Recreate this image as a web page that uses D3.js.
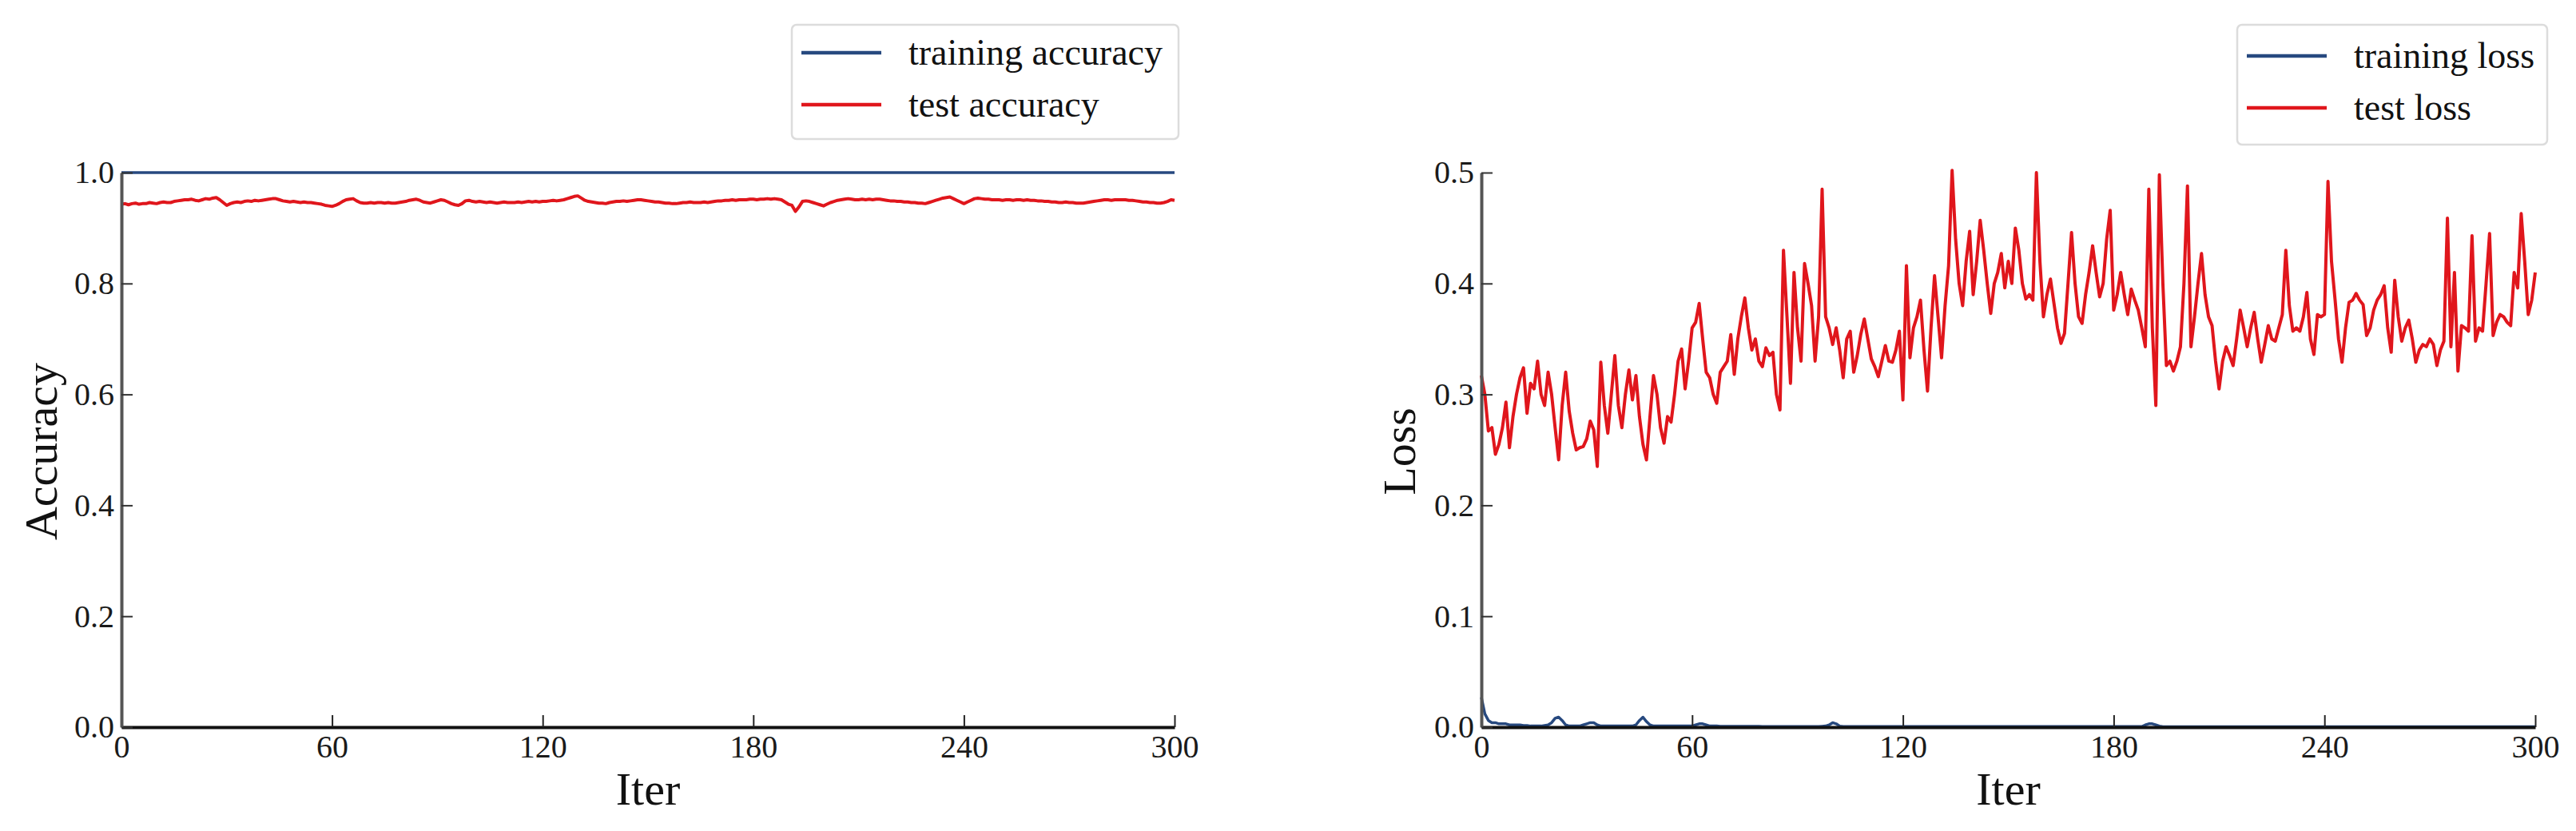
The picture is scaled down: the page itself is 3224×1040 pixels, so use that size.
<!DOCTYPE html>
<html>
<head>
<meta charset="utf-8">
<script src="https://cdn.jsdelivr.net/npm/d3@7/dist/d3.min.js"></script>
<style>
  body { margin: 0; background: #fff; }
  svg { display: block; font-family: "Liberation Serif", "Times New Roman", serif; }
  .tick text { font-family: "Liberation Serif", "Times New Roman", serif; font-size: 40px; fill: #1a1a1a; }
</style>
</head>
<body>
<div id="main"></div>
<script>
// tick values
var xTicks = [0, 60, 120, 180, 240, 300];
var accTicks = [0, 0.2, 0.4, 0.6, 0.8, 1.0];
var lossTicks = [0, 0.1, 0.2, 0.3, 0.4, 0.5];

var accLegend = ["training accuracy", "test accuracy"];
var lossLegend = ["training loss", "test loss"];

// one value per iteration, 0..300
var trainAcc = [
    1,1,1,1,1,1,1,1,1,1,1,1,1,1,1,1,1,1,1,1,1,1,1,1,1,1,1,1,1,1,
    1,1,1,1,1,1,1,1,1,1,1,1,1,1,1,1,1,1,1,1,1,1,1,1,1,1,1,1,1,1,
    1,1,1,1,1,1,1,1,1,1,1,1,1,1,1,1,1,1,1,1,1,1,1,1,1,1,1,1,1,1,
    1,1,1,1,1,1,1,1,1,1,1,1,1,1,1,1,1,1,1,1,1,1,1,1,1,1,1,1,1,1,
    1,1,1,1,1,1,1,1,1,1,1,1,1,1,1,1,1,1,1,1,1,1,1,1,1,1,1,1,1,1,
    1,1,1,1,1,1,1,1,1,1,1,1,1,1,1,1,1,1,1,1,1,1,1,1,1,1,1,1,1,1,
    1,1,1,1,1,1,1,1,1,1,1,1,1,1,1,1,1,1,1,1,1,1,1,1,1,1,1,1,1,1,
    1,1,1,1,1,1,1,1,1,1,1,1,1,1,1,1,1,1,1,1,1,1,1,1,1,1,1,1,1,1,
    1,1,1,1,1,1,1,1,1,1,1,1,1,1,1,1,1,1,1,1,1,1,1,1,1,1,1,1,1,1,
    1,1,1,1,1,1,1,1,1,1,1,1,1,1,1,1,1,1,1,1,1,1,1,1,1,1,1,1,1,1,
    1
];

var testAcc = [
    0.943,0.944,0.942,0.944,0.945,0.943,0.944,0.944,0.946,0.945,
    0.944,0.946,0.947,0.946,0.946,0.948,0.949,0.950,0.951,0.951,
    0.952,0.950,0.949,0.951,0.953,0.952,0.954,0.955,0.951,0.946,
    0.941,0.944,0.946,0.947,0.946,0.948,0.949,0.948,0.950,0.949,
    0.950,0.951,0.952,0.953,0.953,0.951,0.949,0.948,0.947,0.948,
    0.947,0.946,0.947,0.946,0.946,0.945,0.944,0.943,0.941,0.940,
    0.939,0.941,0.944,0.948,0.951,0.952,0.953,0.949,0.946,0.945,
    0.945,0.946,0.945,0.946,0.946,0.945,0.946,0.945,0.945,0.946,
    0.947,0.948,0.950,0.951,0.952,0.950,0.947,0.946,0.945,0.947,
    0.949,0.951,0.950,0.947,0.944,0.942,0.941,0.944,0.949,0.950,
    0.948,0.947,0.948,0.947,0.946,0.947,0.946,0.945,0.946,0.947,
    0.946,0.946,0.946,0.947,0.946,0.947,0.948,0.947,0.948,0.947,
    0.948,0.948,0.949,0.950,0.949,0.950,0.951,0.953,0.955,0.957,
    0.958,0.954,0.950,0.948,0.947,0.946,0.945,0.945,0.944,0.946,
    0.947,0.948,0.948,0.949,0.948,0.949,0.950,0.951,0.951,0.950,
    0.949,0.948,0.947,0.947,0.946,0.945,0.945,0.944,0.944,0.945,
    0.946,0.946,0.947,0.946,0.946,0.946,0.947,0.946,0.947,0.948,
    0.949,0.949,0.950,0.950,0.951,0.950,0.951,0.951,0.951,0.952,
    0.952,0.951,0.952,0.952,0.953,0.952,0.953,0.952,0.951,0.947,
    0.943,0.941,0.930,0.938,0.948,0.949,0.948,0.946,0.944,0.942,
    0.940,0.943,0.946,0.948,0.950,0.951,0.952,0.953,0.952,0.951,
    0.951,0.952,0.951,0.952,0.951,0.952,0.952,0.951,0.950,0.949,
    0.949,0.948,0.948,0.947,0.947,0.946,0.946,0.945,0.945,0.944,
    0.946,0.948,0.950,0.952,0.954,0.955,0.956,0.953,0.950,0.947,
    0.944,0.947,0.950,0.953,0.954,0.953,0.952,0.952,0.951,0.951,
    0.951,0.950,0.951,0.951,0.950,0.951,0.951,0.950,0.951,0.950,
    0.950,0.949,0.949,0.948,0.948,0.947,0.947,0.946,0.946,0.947,
    0.946,0.946,0.945,0.945,0.945,0.946,0.947,0.948,0.949,0.950,
    0.951,0.951,0.950,0.951,0.951,0.951,0.951,0.950,0.950,0.949,
    0.948,0.947,0.947,0.946,0.946,0.945,0.945,0.946,0.948,0.951,
    0.950
];

var trainLoss = [
    0.027,0.012,0.006,0.004,0.004,0.003,0.003,0.003,0.002,0.002,
    0.002,0.002,0.0015,0.0015,0.001,0.001,0.001,0.001,0.0015,0.002,
    0.004,0.008,0.009,0.006,0.002,0.001,0.001,0.001,0.001,0.002,
    0.003,0.004,0.004,0.002,0.001,0.001,0.001,0.001,0.001,0.001,
    0.001,0.001,0.001,0.001,0.002,0.006,0.009,0.005,0.002,0.001,
    0.001,0.001,0.001,0.001,0.001,0.001,0.001,0.001,0.001,0.001,
    0.001,0.002,0.003,0.003,0.002,0.001,0.001,0.001,0.0008,0.0008,
    0.0008,0.0008,0.0008,0.0008,0.0008,0.0008,0.0008,0.0008,0.0008,0.0008,
    0.0006,0.0006,0.0006,0.0006,0.0006,0.0006,0.0006,0.0006,0.0006,0.0006,
    0.0006,0.0006,0.0006,0.0006,0.0006,0.0006,0.0006,0.0008,0.001,0.002,
    0.004,0.003,0.001,0.0006,0.0005,0.0005,0.0005,0.0005,0.0005,0.0005,
    0.0005,0.0005,0.0005,0.0005,0.0005,0.0005,0.0005,0.0005,0.0005,0.0005,
    0.0005,0.0005,0.0005,0.0005,0.0005,0.0005,0.0005,0.0005,0.0005,0.0005,
    0.0005,0.0005,0.0005,0.0005,0.0005,0.0005,0.0005,0.0005,0.0005,0.0005,
    0.0005,0.0005,0.0005,0.0005,0.0005,0.0005,0.0005,0.0005,0.0005,0.0005,
    0.0005,0.0005,0.0005,0.0005,0.0005,0.0005,0.0005,0.0005,0.0005,0.0005,
    0.0005,0.0005,0.0005,0.0005,0.0005,0.0005,0.0005,0.0005,0.0005,0.0005,
    0.0005,0.0005,0.0005,0.0005,0.0005,0.0005,0.0005,0.0005,0.0005,0.0005,
    0.0005,0.0005,0.0005,0.0005,0.0005,0.0005,0.0005,0.0005,0.0005,0.002,
    0.003,0.003,0.002,0.001,0.0004,0.0004,0.0004,0.0004,0.0004,0.0004,
    0.0004,0.0004,0.0004,0.0004,0.0004,0.0004,0.0004,0.0004,0.0004,0.0004,
    0.0004,0.0004,0.0004,0.0004,0.0004,0.0004,0.0004,0.0004,0.0004,0.0004,
    0.0004,0.0004,0.0004,0.0004,0.0004,0.0004,0.0004,0.0004,0.0004,0.0004,
    0.0004,0.0004,0.0004,0.0004,0.0004,0.0004,0.0004,0.0004,0.0004,0.0004,
    0.0004,0.0004,0.0004,0.0004,0.0004,0.0004,0.0004,0.0004,0.0004,0.0004,
    0.0004,0.0004,0.0004,0.0004,0.0004,0.0004,0.0004,0.0004,0.0004,0.0004,
    0.0004,0.0004,0.0004,0.0004,0.0004,0.0004,0.0004,0.0004,0.0004,0.0004,
    0.0004,0.0004,0.0004,0.0004,0.0004,0.0004,0.0004,0.0004,0.0004,0.0004,
    0.0004,0.0004,0.0004,0.0004,0.0004,0.0004,0.0004,0.0004,0.0004,0.0004,
    0.0004,0.0004,0.0004,0.0004,0.0004,0.0004,0.0004,0.0004,0.0004,0.0004,
    0.0004
];

var testLoss = [
    0.317,0.300,0.267,0.270,0.246,0.255,0.270,0.293,0.252,0.280,
    0.300,0.315,0.324,0.283,0.310,0.305,0.330,0.300,0.290,0.320,
    0.300,0.270,0.241,0.290,0.320,0.285,0.265,0.250,0.252,0.253,
    0.260,0.276,0.268,0.235,0.329,0.290,0.265,0.300,0.335,0.290,
    0.270,0.300,0.322,0.295,0.317,0.280,0.255,0.241,0.280,0.317,
    0.300,0.270,0.256,0.280,0.275,0.300,0.330,0.341,0.305,0.330,
    0.360,0.365,0.382,0.350,0.320,0.315,0.300,0.292,0.320,0.325,
    0.330,0.354,0.318,0.350,0.370,0.387,0.360,0.340,0.350,0.330,
    0.325,0.342,0.335,0.338,0.300,0.286,0.430,0.370,0.310,0.410,
    0.360,0.330,0.418,0.400,0.380,0.330,0.370,0.485,0.370,0.360,
    0.345,0.360,0.340,0.315,0.350,0.357,0.320,0.335,0.354,0.368,
    0.350,0.332,0.325,0.316,0.330,0.344,0.330,0.329,0.340,0.357,
    0.295,0.416,0.333,0.360,0.370,0.385,0.340,0.303,0.360,0.407,
    0.370,0.333,0.380,0.416,0.502,0.440,0.400,0.380,0.420,0.447,
    0.390,0.420,0.457,0.430,0.400,0.373,0.400,0.410,0.427,0.396,
    0.420,0.400,0.450,0.430,0.400,0.386,0.390,0.385,0.500,0.420,
    0.370,0.390,0.404,0.382,0.360,0.346,0.355,0.400,0.446,0.400,
    0.370,0.364,0.390,0.410,0.434,0.410,0.388,0.400,0.440,0.466,
    0.376,0.390,0.410,0.390,0.372,0.395,0.385,0.376,0.360,0.343,
    0.485,0.360,0.290,0.498,0.400,0.326,0.330,0.321,0.330,0.343,
    0.400,0.488,0.343,0.370,0.400,0.427,0.390,0.370,0.362,0.330,
    0.305,0.330,0.343,0.335,0.326,0.350,0.376,0.360,0.343,0.360,
    0.374,0.350,0.329,0.345,0.362,0.350,0.348,0.360,0.372,0.430,
    0.380,0.357,0.360,0.357,0.370,0.392,0.350,0.336,0.372,0.370,
    0.372,0.492,0.420,0.386,0.350,0.329,0.360,0.383,0.385,0.391,
    0.385,0.381,0.353,0.360,0.376,0.385,0.390,0.398,0.360,0.338,
    0.403,0.370,0.348,0.360,0.367,0.350,0.329,0.340,0.345,0.343,
    0.350,0.345,0.326,0.340,0.348,0.459,0.343,0.410,0.321,0.362,
    0.360,0.357,0.443,0.348,0.360,0.357,0.400,0.445,0.353,0.365,
    0.372,0.370,0.365,0.362,0.410,0.396,0.463,0.420,0.372,0.385,
    0.410
];

var width = 3224,
    height = 1040;

var blue = "#27497f",
    red = "#e0161c";

var top_y = 216,
    bottom_y = 910;

var svg = d3.select("#main").append("svg")
    .attr("width", width)
    .attr("height", height);

svg.append("rect")
    .attr("width", width)
    .attr("height", height)
    .attr("fill", "#fff");

function drawPanel(p) {
    var g = svg.append("g");

    var x = d3.scaleLinear().domain([0, 300]).range([p.left, p.right]);
    var y = d3.scaleLinear().domain([0, p.yMax]).range([bottom_y, top_y]);

    var line = d3.line()
        .x(function(d, i) { return x(i); })
        .y(function(d) { return y(d); });

    g.append("path")
        .datum(p.train)
        .attr("fill", "none")
        .attr("stroke", blue)
        .attr("stroke-width", 3.5)
        .attr("stroke-linejoin", "round")
        .attr("d", line);

    g.append("path")
        .datum(p.test)
        .attr("fill", "none")
        .attr("stroke", red)
        .attr("stroke-width", 4)
        .attr("stroke-linejoin", "round")
        .attr("d", line);

    // ticks point inward like the original
    var xAxis = g.append("g")
        .attr("transform", "translate(0," + bottom_y + ")")
        .call(d3.axisBottom(x)
            .tickValues(xTicks)
            .tickSizeInner(-15)
            .tickSizeOuter(0)
            .tickPadding(10)
            .tickFormat(d3.format("d")));
    xAxis.attr("font-family", null).attr("font-size", null);
    xAxis.select(".domain").attr("stroke", "#111").attr("stroke-width", 4);
    xAxis.selectAll(".tick line").attr("stroke", "#222").attr("stroke-width", 2);

    var yAxis = g.append("g")
        .attr("transform", "translate(" + p.left + ",0)")
        .call(d3.axisLeft(y)
            .tickValues(p.yTicks)
            .tickSizeInner(-14)
            .tickSizeOuter(0)
            .tickPadding(9)
            .tickFormat(d3.format(".1f")));
    yAxis.attr("font-family", null).attr("font-size", null);
    yAxis.select(".domain").attr("stroke", "#555").attr("stroke-width", 4);
    yAxis.selectAll(".tick line").attr("stroke", "#333").attr("stroke-width", 2);

    g.append("text")
        .attr("x", (p.left + p.right) / 2)
        .attr("y", 1007)
        .attr("text-anchor", "middle")
        .style("font-size", "58px")
        .attr("fill", "#111")
        .text("Iter");

    g.append("text")
        .attr("transform", "translate(" + p.ylabX + ",565) rotate(-90)")
        .attr("text-anchor", "middle")
        .style("font-size", "58px")
        .attr("fill", "#111")
        .text(p.ylabel);

    // legend
    var lg = g.append("g");
    lg.append("rect")
        .attr("x", p.legX)
        .attr("y", p.legY)
        .attr("width", p.legW)
        .attr("height", p.legH)
        .attr("rx", 6)
        .attr("fill", "#fff")
        .attr("stroke", "#dcdcdc")
        .attr("stroke-width", 2.5);

    p.legend.forEach(function(name, i) {
        var ly = p.legRows[i];
        lg.append("line")
            .attr("x1", p.legX + 12)
            .attr("x2", p.legX + 112)
            .attr("y1", ly)
            .attr("y2", ly)
            .attr("stroke", i == 0 ? blue : red)
            .attr("stroke-width", 4.5);
        lg.append("text")
            .attr("x", p.legX + 146)
            .attr("y", ly + 15)
            .style("font-size", "46px")
            .attr("fill", "#111")
            .text(name);
    });
}

drawPanel({
    left: 152, right: 1470, yMax: 1.0, yTicks: accTicks,
    train: trainAcc, test: testAcc,
    ylabel: "Accuracy", ylabX: 71,
    legend: accLegend,
    legX: 991, legY: 31, legW: 484, legH: 143, legRows: [66, 131]
});

drawPanel({
    left: 1854, right: 3173, yMax: 0.5, yTicks: lossTicks,
    train: trainLoss, test: testLoss,
    ylabel: "Loss", ylabX: 1771,
    legend: lossLegend,
    legX: 2800, legY: 31, legW: 388, legH: 150, legRows: [70, 135]
});
</script>
</body>
</html>
